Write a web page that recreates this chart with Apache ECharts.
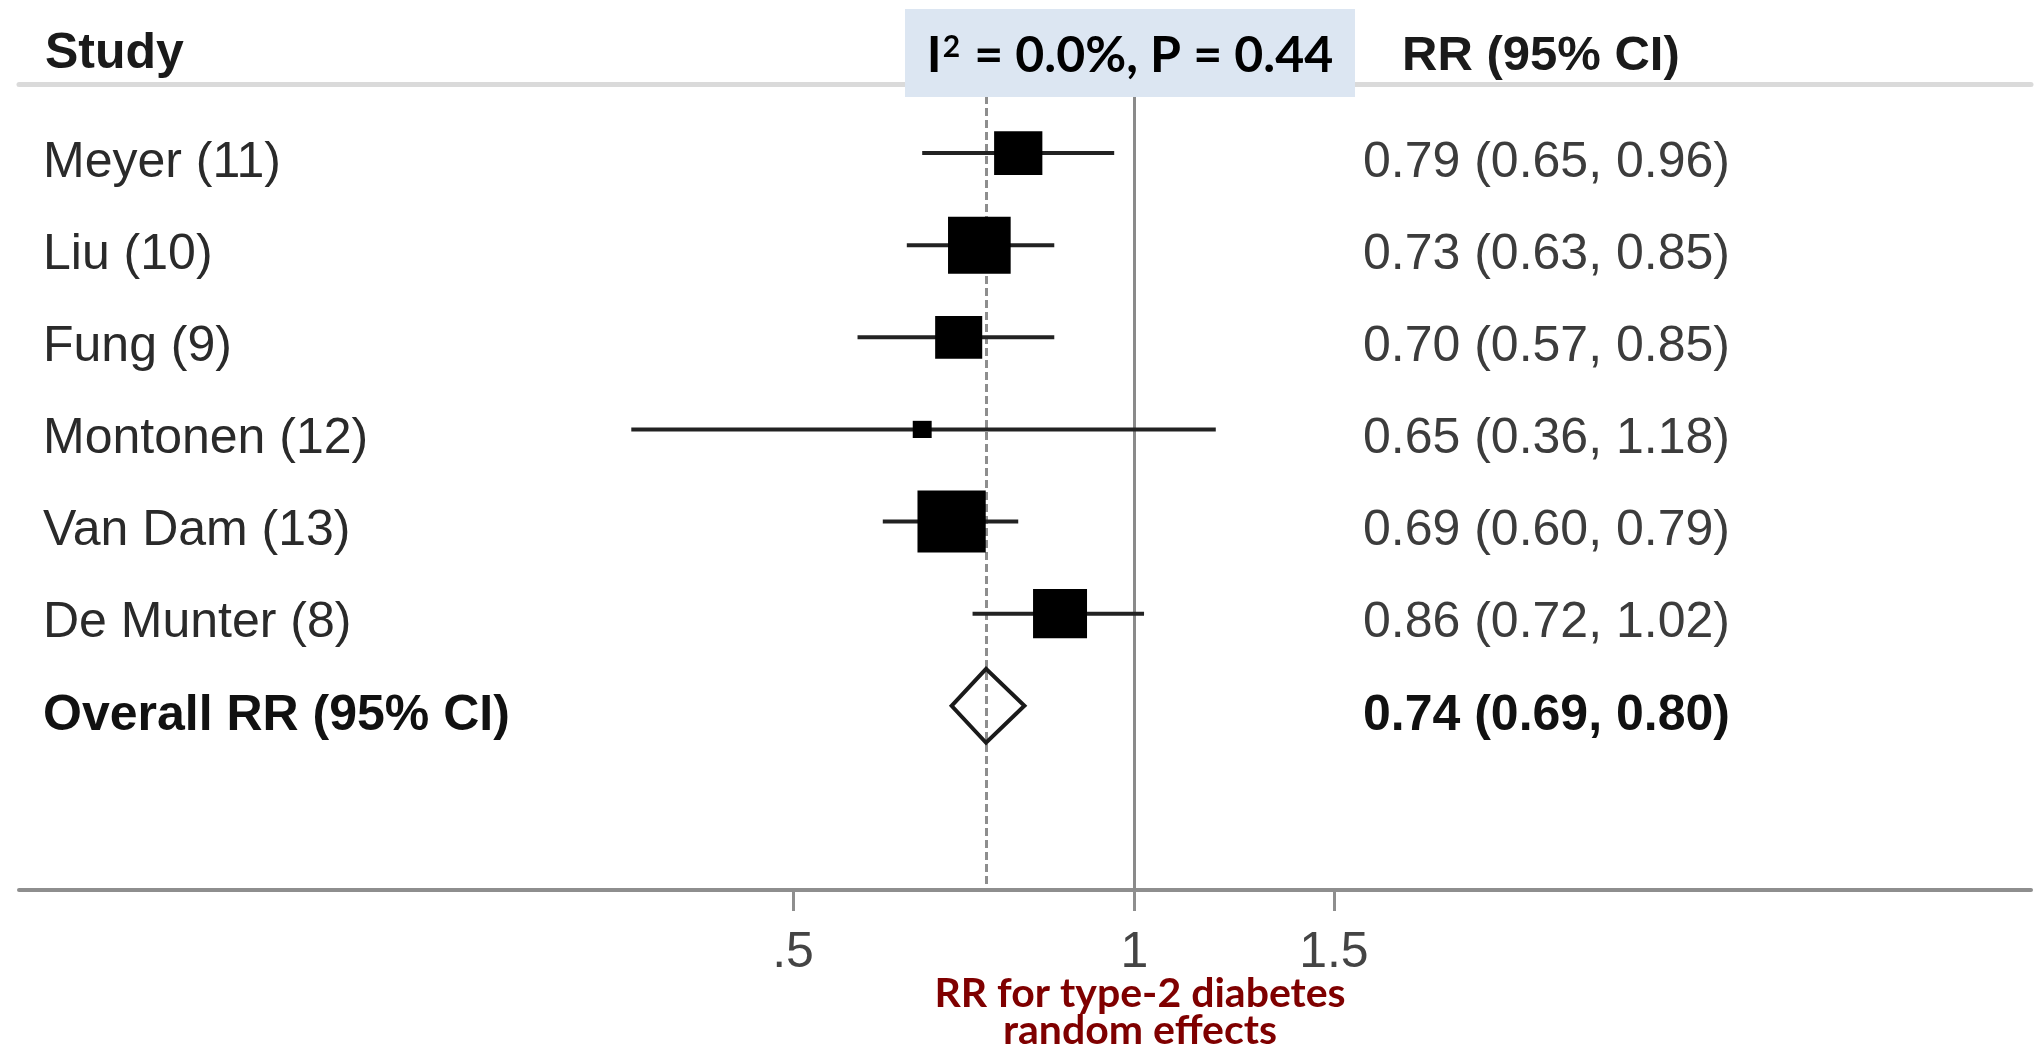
<!DOCTYPE html>
<html>
<head>
<meta charset="utf-8">
<title>Forest plot – RR for type-2 diabetes</title>
<script src="https://cdn.jsdelivr.net/npm/echarts@6/dist/echarts.min.js"></script>
<style>
  html, body { margin: 0; padding: 0; background: #ffffff; }
  #chart { width: 2035px; height: 1052px; }
</style>
</head>
<body>
<div id="chart"></div>
<script>
// ---- study data ----
const studies = ['Meyer (11)', 'Liu (10)', 'Fung (9)', 'Montonen (12)', 'Van Dam (13)', 'De Munter (8)'];
const rr      = [0.79, 0.73, 0.70, 0.65, 0.69, 0.86];
const ciLow   = [0.65, 0.63, 0.57, 0.36, 0.60, 0.72];
const ciHigh  = [0.96, 0.85, 0.85, 1.18, 0.79, 1.02];
const weights = [14.3, 24.1, 13.6, 2.2, 28.6, 17.9];   // study weight (%), square area follows it

// pooled estimate: RR, lower, upper
const overallLabel = 'Overall RR (95% CI)';
const overall = [0.74, 0.69, 0.80];

const nullValue = 1;                       // line of no effect
const xTicks = [0.5, 1, 1.5];
const xTickLabels = ['.5', '1', '1.5'];
const heterogeneity = 'I\u00B2 = 0.0%, P = 0.44';
const xTitleLines = ['RR for type-2 diabetes', 'random effects'];
const headerLeft = 'Study';
const headerRight = 'RR (95% CI)';

// ---- derived rows ----
const rowNames = studies.concat([overallLabel]);
const fmt = (v, l, h) => v.toFixed(2) + ' (' + l.toFixed(2) + ', ' + h.toFixed(2) + ')';
const rowEstimates = studies.map((s, i) => fmt(rr[i], ciLow[i], ciHigh[i]))
  .concat([fmt(overall[0], overall[1], overall[2])]);
const rowIdx = rowNames.map((s, i) => i);
const overallRow = studies.length;

const SANS = '"Liberation Sans", Arial, Helvetica, sans-serif';
const HUMANIST = 'Lato, "Open Sans", sans-serif';
const BODY_SIZE = 50;

const chart = echarts.init(document.getElementById('chart'), null, { renderer: 'canvas' });

const yCommon = {
  type: 'value',
  inverse: true,
  min: -0.75,
  max: 8,
  axisLine: { show: false, onZero: false },
  axisTick: { show: false },
  splitLine: { show: false }
};

const rowLabel = (list) => (val) => {
  const i = Math.round(val);
  if (i === overallRow) return '{b|' + list[i] + '}';
  return list[i] === undefined ? '' : list[i];
};

// heterogeneity statistic with a raised "2"
const hetRich = '{n|' + heterogeneity.replace('\u00B2', '}{s|2}{n|') + '}';

const option = {
  animation: false,
  backgroundColor: '#ffffff',
  grid: { left: 19, right: 4, top: 84, bottom: 162, containLabel: false },
  xAxis: [
    {
      type: 'log',
      logBase: 10,
      min: 0.1038,
      max: 6.18,
      position: 'bottom',
      axisLine: { show: true, onZero: false, lineStyle: { color: '#8e8e8e', width: 4 } },
      axisTick: { show: true, customValues: xTicks, length: 21, lineStyle: { color: '#8e8e8e', width: 3 } },
      axisLabel: {
        show: true,
        customValues: xTicks,
        margin: 38,
        color: '#444444',
        fontSize: BODY_SIZE,
        fontFamily: SANS,
        formatter: (v) => {
          const k = xTicks.findIndex(t => Math.abs(t - v) < 1e-6);
          return k >= 0 ? xTickLabels[k] : '';
        }
      },
      splitLine: { show: false },
      minorTick: { show: false },
      minorSplitLine: { show: false }
    },
    {
      // header rule along the top of the plot
      type: 'value',
      position: 'top',
      min: 0,
      max: 1,
      axisLine: { show: true, onZero: false, lineStyle: { color: '#dadada', width: 5 } },
      axisTick: { show: false },
      axisLabel: { show: false },
      splitLine: { show: false }
    }
  ],
  yAxis: [
    Object.assign({}, yCommon, {
      position: 'left',
      axisLabel: {
        show: true,
        inside: true,
        margin: 24,
        customValues: rowIdx,
        color: '#2a2a2a',
        fontSize: BODY_SIZE,
        fontFamily: SANS,
        padding: [20, 0, 0, 0],
        formatter: rowLabel(rowNames),
        rich: { b: { fontWeight: 'bold', color: '#111111', fontSize: BODY_SIZE, fontFamily: SANS } }
      }
    }),
    Object.assign({}, yCommon, {
      position: 'right',
      axisLabel: {
        show: true,
        inside: true,
        align: 'left',
        margin: 668,
        customValues: rowIdx,
        color: '#3c3c3c',
        fontSize: BODY_SIZE,
        fontFamily: SANS,
        padding: [20, 0, 0, 0],
        formatter: rowLabel(rowEstimates),
        rich: { b: { fontWeight: 'bold', color: '#111111', fontSize: BODY_SIZE, fontFamily: SANS } }
      }
    })
  ],
  series: [
    {
      // confidence intervals
      name: 'CI',
      type: 'custom',
      xAxisIndex: 0,
      yAxisIndex: 0,
      z: 3,
      silent: true,
      data: studies.map((s, i) => [ciLow[i], ciHigh[i], i]),
      encode: { x: [0, 1], y: 2 },
      renderItem: (params, api) => {
        const a = api.coord([api.value(0), api.value(2)]);
        const b = api.coord([api.value(1), api.value(2)]);
        return {
          type: 'line',
          shape: { x1: a[0], y1: a[1], x2: b[0], y2: b[1] },
          style: { stroke: '#222222', lineWidth: 4 }
        };
      }
    },
    {
      // point estimates, box area proportional to weight
      name: 'RR',
      type: 'scatter',
      xAxisIndex: 0,
      yAxisIndex: 0,
      z: 4,
      silent: true,
      symbol: 'rect',
      symbolSize: (val, p) => {
        const s = 11.6 * Math.sqrt(weights[p.dataIndex]);
        return [s * 1.1, s];
      },
      itemStyle: { color: '#000000', opacity: 1 },
      data: rr.map((v, i) => [v, i]),
      markLine: {
        silent: true,
        symbol: 'none',
        z: 1,
        label: { show: false },
        emphasis: { disabled: true },
        data: [
          { xAxis: nullValue, lineStyle: { color: '#8a8a8a', width: 3, type: 'solid', opacity: 1 } },
          { xAxis: overall[0], lineStyle: { color: '#8e8e8e', width: 3, type: [8, 4], opacity: 1 } }
        ]
      }
    },
    {
      // pooled estimate diamond
      name: 'Overall',
      type: 'custom',
      xAxisIndex: 0,
      yAxisIndex: 0,
      z: 4,
      silent: true,
      data: [[overall[1], overall[0], overall[2], overallRow]],
      encode: { x: [0, 1, 2], y: 3 },
      renderItem: (params, api) => {
        const row = api.value(3);
        const l = api.coord([api.value(0), row]);
        const c = api.coord([api.value(1), row]);
        const r = api.coord([api.value(2), row]);
        const h = 37;
        return {
          type: 'polygon',
          shape: { points: [l, [c[0], c[1] - h], r, [c[0], c[1] + h]] },
          style: { fill: 'none', stroke: '#1a1a1a', lineWidth: 4, lineJoin: 'miter' }
        };
      }
    }
  ],
  graphic: [
    {
      type: 'text', x: 45, y: 54, z: 100,
      style: { text: headerLeft, font: 'bold ' + BODY_SIZE + 'px ' + SANS, fill: '#1a1a1a', verticalAlign: 'middle', align: 'left' }
    },
    {
      type: 'text', x: 1402, y: 56, z: 100,
      style: { text: headerRight, font: 'bold 49px ' + SANS, fill: '#1a1a1a', verticalAlign: 'middle', align: 'left' }
    },
    {
      type: 'rect', z: 100,
      shape: { x: 905, y: 9, width: 450, height: 88 },
      style: { fill: '#dce6f2' }
    },
    {
      type: 'text', x: 1130, y: 56, z: 101,
      style: {
        text: hetRich,
        fill: '#000000',
        verticalAlign: 'middle',
        align: 'center',
        rich: {
          n: { fontFamily: HUMANIST, fontWeight: 'bold', fontSize: 50, fill: '#000000', lineHeight: 56 },
          s: { fontFamily: HUMANIST, fontWeight: 'bold', fontSize: 30, fill: '#000000', verticalAlign: 'top', lineHeight: 56, padding: [4, 2, 0, 1] }
        }
      }
    },
    {
      type: 'text', x: 1140, y: 994, z: 100,
      style: { text: xTitleLines[0], font: 'bold 41px ' + HUMANIST, fill: '#7f0000', verticalAlign: 'middle', align: 'center' }
    },
    {
      type: 'text', x: 1140, y: 1031, z: 100,
      style: { text: xTitleLines[1], font: 'bold 41px ' + HUMANIST, fill: '#7f0000', verticalAlign: 'middle', align: 'center' }
    }
  ]
};

chart.setOption(option);
</script>
</body>
</html>
